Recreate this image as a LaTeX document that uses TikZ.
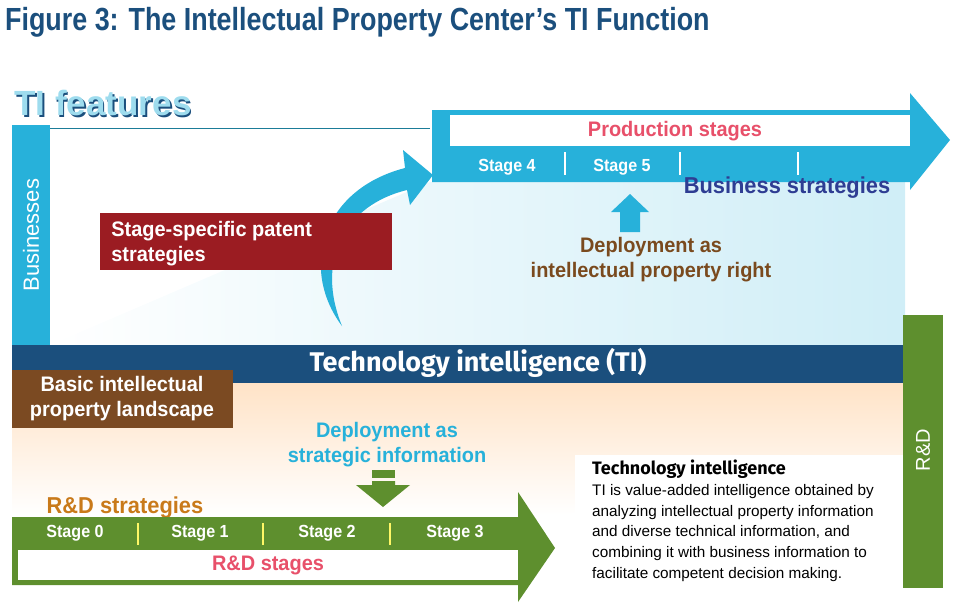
\documentclass[tikz,border=0pt]{standalone}
\usepackage{fontspec}
\setmainfont{Liberation Sans}
\newfontfamily\roundfont{Fira Sans}
\usetikzlibrary{positioning,shapes.arrows}
\definecolor{tiblue}{HTML}{1B4F7D}
\definecolor{ticyan}{HTML}{27B1DA}
\definecolor{tigreen}{HTML}{5E8F2E}
\definecolor{tibrown}{HTML}{7B4A22}
\definecolor{tired}{HTML}{9B1C22}
\definecolor{tipink}{HTML}{E8506A}
\definecolor{tinavy}{HTML}{2E3D93}
\definecolor{tiorange}{HTML}{C97A1A}
\definecolor{titext}{HTML}{7A4A1E}
\tikzset{
  stagetext/.style={font=\bfseries\fontsize{17.5}{20}\selectfont, text=white, xscale=0.92},
  boxtext/.style={font=\bfseries\fontsize{21}{25}\selectfont, text=white, align=left, xscale=0.95},
  sep/.style={line width=1.5pt},
  feattext/.style={anchor=west, font=\bfseries\fontsize{35}{38}\selectfont},
}
\begin{document}
\begin{tikzpicture}[x=1pt,y=-1pt]
  \useasboundingbox (0,0) rectangle (958,611);
  % title
  \node[anchor=west, text=tiblue, font=\bfseries\fontsize{32}{36}\selectfont, xscale=0.84, inner sep=0pt] (title) at (5,22) {Figure 3: The Intellectual Property Center’s TI Function};
  % background shading
  \shade[left color=white, right color=ticyan!22] (50,345) -- (430,182) -- (905,182) -- (905,345) -- cycle;
  \shade[top color=orange!22, bottom color=white] (12,383) -- (903,383) -- (903,470) -- (560,515) -- (12,515) -- cycle;
  % TI features
  \node[feattext, text=tiblue] (featsh) at (12.5,104.5) {TI features};
  \node[feattext, text=ticyan!45] (feat) at (11,103) {TI features};
  \draw[ticyan!70!black, line width=0.6pt] (40,128) -- (430,128);
  % businesses bar
  \fill[ticyan] (12,125) rectangle (50,345);
  \node[rotate=90, text=white, font=\fontsize{22}{24}\selectfont] (bus) at (31,235) {Businesses};
  % production arrow
  \fill[ticyan] (432,110) -- (910,110) -- (910,93) -- (950,140) -- (910,190) -- (910,182) -- (432,182) -- cycle;
  \fill[white] (450,115) rectangle (910,146);
  \node[boxtext, text=tipink] (prod) at (675,131) {Production stages};
  \node[stagetext] (s4) at (507,167) {Stage 4};
  \node[stagetext] (s5) at (622,167) {Stage 5};
  \foreach \x in {565,680,798} \draw[white, sep] (\x,152) -- (\x,175);
  \node[text=tinavy, font=\bfseries\fontsize{23}{26}\selectfont, xscale=0.95] (bstrat) at (787,188) {Business strategies};
  % curved arrow
  \fill[ticyan] (342,326) .. controls (300,270) and (320,190) .. (405,168)
    -- (403,150) -- (433,175) -- (410,205) -- (407,190)
    .. controls (345,205) and (315,260) .. cycle;
  % patent strategies
  \fill[tired] (100,213) rectangle (392,270);
  \node[boxtext, anchor=north west] (patent) at (108,218) {Stage-specific patent\\strategies};
  % up arrow
  \fill[ticyan] (620,232) -- (620,212) -- (611,212) -- (630,194) -- (649,212) -- (640,212) -- (640,232) -- cycle;
  \node[boxtext, text=titext, align=center] (iprd) at (651,260) {Deployment as\\intellectual property right};
  % TI bar
  \fill[tiblue] (12,345) rectangle (905,383);
  \node[text=white, font=\roundfont\bfseries\fontsize{27}{30}\selectfont] (ti) at (478,363) {Technology intelligence (TI)};
  % R&D bar
  \fill[tigreen] (903,315) rectangle (943,588);
  \node[rotate=90, text=white, font=\fontsize{20}{22}\selectfont] (rd) at (923,450) {R\&D};
  % landscape
  \fill[tibrown] (12,370) rectangle (233,428);
  \node[boxtext, align=center] (land) at (122,399) {Basic intellectual\\property landscape};
  % strategic information
  \node[boxtext, text=ticyan, align=center] (sinfo) at (387,445) {Deployment as\\strategic information};
  \fill[tigreen] (372,470) rectangle (395,478);
  \fill[tigreen] (372,481) -- (395,481) -- (395,485) -- (410,485) -- (383,507) -- (356,485) -- (372,485) -- cycle;
  \node[text=tiorange, font=\bfseries\fontsize{23}{26}\selectfont, xscale=0.95] (rdstrat) at (125,508) {R\&D strategies};
  % R&D arrow
  \fill[tigreen] (12,517) -- (518,517) -- (518,492) -- (555,548) -- (518,602) -- (518,585) -- (12,585) -- cycle;
  \fill[white] (18,550) rectangle (518,580);
  \node[boxtext, text=tipink] (rdst) at (268,565) {R\&D stages};
  \node[stagetext] (s0) at (75,533) {Stage 0};
  \node[stagetext] (s1) at (200,533) {Stage 1};
  \node[stagetext] (s2) at (327,533) {Stage 2};
  \node[stagetext] (s3) at (455,533) {Stage 3};
  \foreach \x in {138,263,390} \draw[yellow!60, sep] (\x,523) -- (\x,545);
  % explanation
  \fill[white] (575,455) rectangle (903,588);
  \node[anchor=north west, font=\roundfont\bfseries\fontsize{18}{20}\selectfont, inner sep=0pt] (defh) at (592,460) {Technology intelligence};
  \node[anchor=north west, align=left, font=\fontsize{15.3}{20.8}\selectfont, inner sep=0pt] (def) at (592,484) {TI is value-added intelligence obtained by\\analyzing intellectual property information\\and diverse technical information, and\\combining it with business information to\\facilitate competent decision making.};
\end{tikzpicture}
\end{document}
